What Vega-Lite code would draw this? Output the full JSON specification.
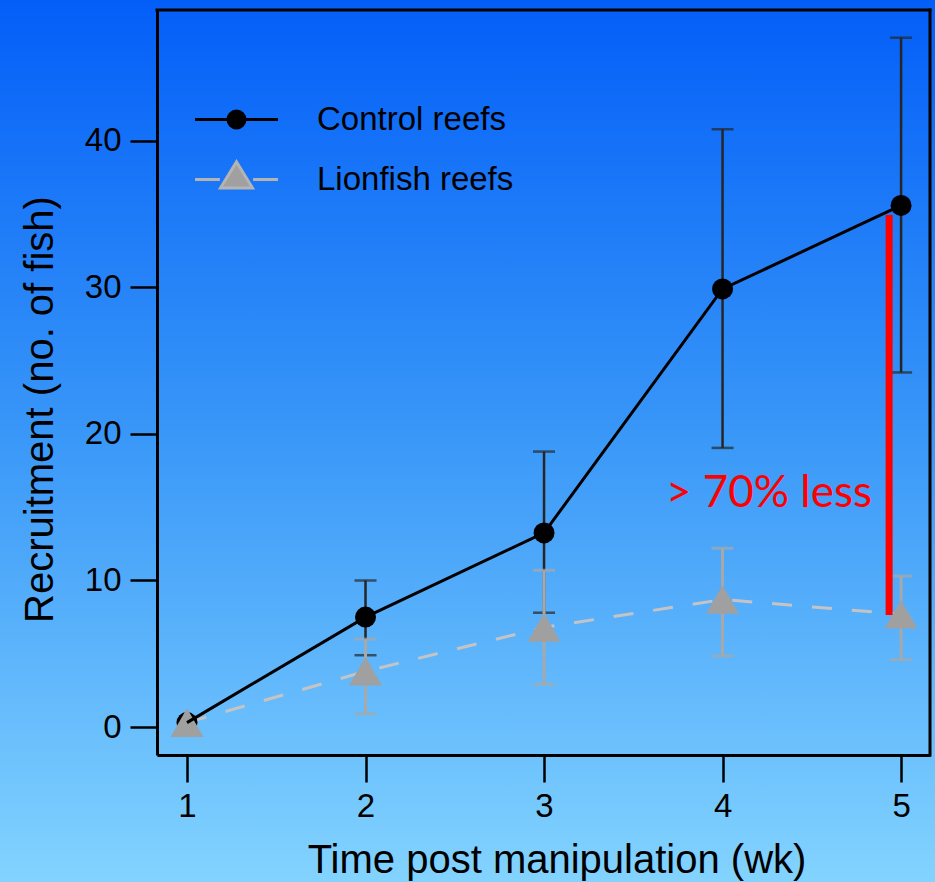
{
  "$schema": "https://vega.github.io/schema/vega-lite/v6.json",
  "autosize": {"type": "none"},
  "padding": {"left": 157, "top": 10, "right": 5, "bottom": 127},
  "width": 773,
  "height": 745,
  "background": "#3a96f8",
  "config": {
    "view": {"stroke": null},
    "axis": {
      "zindex": 1,
      "grid": false,
      "domainColor": "black",
      "domainWidth": 3,
      "tickColor": "black",
      "tickWidth": 2.5,
      "tickSize": 27,
      "labelFont": "Liberation Sans",
      "labelFontSize": 33,
      "labelColor": "black",
      "titleFont": "Liberation Sans",
      "titleFontSize": 40,
      "titleFontWeight": "normal",
      "titleColor": "black"
    }
  },
  "datasets": {
    "main": [
      {"week": 1, "series": "Control reefs", "mean": 0.3, "lo": null, "hi": null},
      {"week": 2, "series": "Control reefs", "mean": 7.5, "lo": 4.9, "hi": 10.0},
      {"week": 3, "series": "Control reefs", "mean": 13.25, "lo": 7.8, "hi": 18.8},
      {"week": 4, "series": "Control reefs", "mean": 29.9, "lo": 19.05, "hi": 40.8},
      {"week": 5, "series": "Control reefs", "mean": 35.6, "lo": 24.2, "hi": 47.05},
      {"week": 1, "series": "Lionfish reefs", "mean": 0.3, "lo": null, "hi": null},
      {"week": 2, "series": "Lionfish reefs", "mean": 3.8, "lo": 0.9, "hi": 6.0},
      {"week": 3, "series": "Lionfish reefs", "mean": 6.8, "lo": 2.9, "hi": 10.7},
      {"week": 4, "series": "Lionfish reefs", "mean": 8.7, "lo": 4.85, "hi": 12.2},
      {"week": 5, "series": "Lionfish reefs", "mean": 7.7, "lo": 4.6, "hi": 10.3}
    ],
    "gap": [{"week": 4.933, "lo": 7.65, "hi": 34.95}],
    "note": [{"week": 4.26, "value": 15.9, "label": "> 70% less"}]
  },
  "layer": [
    {
      "data": {"name": "main"},
      "mark": {"type": "point", "filled": true, "opacity": 1, "strokeWidth": 3},
      "encoding": {
        "x": {
          "field": "week", "type": "quantitative",
          "scale": {"domain": [0.832, 5.162], "nice": false, "zero": false},
          "title": "Time post manipulation (wk)",
          "axis": {"zindex": 1, "values": [1, 2, 3, 4, 5], "format": "d", "labelPadding": 8, "titleX": 399.5, "titleY": 117, "titleBaseline": "alphabetic", "titleAlign": "center"}
        },
        "y": {
          "field": "mean", "type": "quantitative",
          "scale": {"domain": [-1.911, 48.94], "nice": false, "zero": false},
          "title": "Recruitment (no. of fish)",
          "axis": {"zindex": 1, "values": [0, 10, 20, 30, 40], "labelPadding": 9, "titleX": -105, "titleY": 399, "titleBaseline": "alphabetic", "titleAlign": "center"}
        },
        "shape": {
          "field": "series", "type": "nominal",
          "scale": {"domain": ["Control reefs", "Lionfish reefs"], "range": ["M-2,0H2M-0.41,0A0.41,0.41,0,1,1,0.41,0A0.41,0.41,0,1,1,-0.41,0Z", "M-2,0H-0.8M0.8,0H2M0,-0.85L-0.77,0.41L0.77,0.41Z"]},
          "legend": {"title": null, "orient": "none", "legendX": 57, "legendY": 87, "padding": 0, "labelFont": "Liberation Sans", "labelFontSize": 33, "labelColor": "black", "labelOffset": 58, "labelLimit": 500, "symbolSize": 1722, "symbolStrokeWidth": 3, "symbolOpacity": 1, "rowPadding": 18, "zindex": 2}
        },
        "fill": {
          "field": "series", "type": "nominal",
          "scale": {"domain": ["Control reefs", "Lionfish reefs"], "range": ["#000000", "#a0a0a0"]},
          "legend": {"title": null, "orient": "none", "legendX": 57, "legendY": 87, "padding": 0, "labelFont": "Liberation Sans", "labelFontSize": 33, "labelColor": "black", "labelOffset": 58, "labelLimit": 500, "symbolSize": 1722, "symbolStrokeWidth": 3, "symbolOpacity": 1, "rowPadding": 18, "zindex": 2}
        },
        "stroke": {
          "field": "series", "type": "nominal",
          "scale": {"domain": ["Control reefs", "Lionfish reefs"], "range": ["#000000", "#b4b4b4"]},
          "legend": {"title": null, "orient": "none", "legendX": 57, "legendY": 87, "padding": 0, "labelFont": "Liberation Sans", "labelFontSize": 33, "labelColor": "black", "labelOffset": 58, "labelLimit": 500, "symbolSize": 1722, "symbolStrokeWidth": 3, "symbolOpacity": 1, "rowPadding": 18, "zindex": 2}
        }
      }
    },
    {
      "data": {"values": [{}]},
      "mark": {
        "type": "rect",
        "fill": {"gradient": "linear", "x1": 0, "y1": 0, "x2": 0, "y2": 1, "stops": [
          {"offset": 0, "color": "#005cf8"},
          {"offset": 0.5, "color": "#3a98f8"},
          {"offset": 1, "color": "#86d6ff"}
        ]}
      },
      "encoding": {
        "x": {"datum": -0.2, "type": "quantitative", "title": "Time post manipulation (wk)"},
        "x2": {"datum": 5.4},
        "y": {"datum": -12, "type": "quantitative", "title": "Recruitment (no. of fish)"},
        "y2": {"datum": 51}
      }
    },
    {
      "data": {"values": [{}]},
      "mark": {"type": "rule", "color": "#000000", "strokeWidth": 3, "strokeCap": "square"},
      "encoding": {
        "x": {"datum": 0.832, "type": "quantitative", "title": "Time post manipulation (wk)"},
        "x2": {"datum": 5.162},
        "y": {"datum": 48.94, "type": "quantitative", "title": "Recruitment (no. of fish)"}
      }
    },
    {
      "data": {"values": [{}]},
      "mark": {"type": "rule", "color": "#000000", "strokeWidth": 3, "strokeCap": "square"},
      "encoding": {
        "x": {"datum": 5.162, "type": "quantitative", "title": "Time post manipulation (wk)"},
        "y": {"datum": -1.911, "type": "quantitative", "title": "Recruitment (no. of fish)"},
        "y2": {"datum": 48.94}
      }
    },
    {
      "data": {"name": "main"},
      "transform": [{"filter": "datum.series === 'Lionfish reefs'"}],
      "mark": {"type": "line", "color": "#c4c4c4", "strokeWidth": 3, "strokeDash": [20, 20]},
      "encoding": {
        "x": {"field": "week", "type": "quantitative", "title": "Time post manipulation (wk)"},
        "y": {"field": "mean", "type": "quantitative", "title": "Recruitment (no. of fish)"}
      }
    },
    {
      "data": {"name": "main"},
      "transform": [{"filter": "datum.series === 'Control reefs'"}],
      "mark": {"type": "errorbar", "ticks": true, "color": "#262626", "size": 22, "thickness": 2.5},
      "encoding": {
        "x": {"field": "week", "type": "quantitative", "title": "Time post manipulation (wk)"},
        "y": {"field": "lo", "type": "quantitative", "title": "Recruitment (no. of fish)"},
        "y2": {"field": "hi"}
      }
    },
    {
      "data": {"name": "main"},
      "transform": [{"filter": "datum.series === 'Lionfish reefs'"}],
      "mark": {"type": "errorbar", "ticks": true, "color": "#a8a8a8", "size": 22, "thickness": 3},
      "encoding": {
        "x": {"field": "week", "type": "quantitative", "title": "Time post manipulation (wk)"},
        "y": {"field": "lo", "type": "quantitative", "title": "Recruitment (no. of fish)"},
        "y2": {"field": "hi"}
      }
    },
    {
      "data": {"name": "main"},
      "transform": [{"filter": "datum.series === 'Control reefs'"}],
      "mark": {"type": "point", "shape": "circle", "filled": true, "color": "#000000", "opacity": 1, "size": 441},
      "encoding": {
        "x": {"field": "week", "type": "quantitative", "title": "Time post manipulation (wk)"},
        "y": {"field": "mean", "type": "quantitative", "title": "Recruitment (no. of fish)"}
      }
    },
    {
      "data": {"name": "main"},
      "transform": [{"filter": "datum.series === 'Lionfish reefs'"}],
      "mark": {"type": "point", "shape": "triangle-up", "filled": true, "color": "#a0a0a0", "opacity": 1, "size": 1089},
      "encoding": {
        "x": {"field": "week", "type": "quantitative", "title": "Time post manipulation (wk)"},
        "y": {"field": "mean", "type": "quantitative", "title": "Recruitment (no. of fish)"}
      }
    },
    {
      "data": {"name": "main"},
      "transform": [{"filter": "datum.series === 'Control reefs'"}],
      "mark": {"type": "line", "color": "#000000", "strokeWidth": 3},
      "encoding": {
        "x": {"field": "week", "type": "quantitative", "title": "Time post manipulation (wk)"},
        "y": {"field": "mean", "type": "quantitative", "title": "Recruitment (no. of fish)"}
      }
    },
    {
      "data": {"name": "gap"},
      "mark": {"type": "rule", "color": "#ff0000", "strokeWidth": 7},
      "encoding": {
        "x": {"field": "week", "type": "quantitative", "title": "Time post manipulation (wk)"},
        "y": {"field": "lo", "type": "quantitative", "title": "Recruitment (no. of fish)"},
        "y2": {"field": "hi"}
      }
    },
    {
      "data": {"name": "note"},
      "mark": {"type": "text", "font": "Lato", "fontSize": 44, "color": "#ff0000", "align": "center", "baseline": "middle"},
      "encoding": {
        "x": {"field": "week", "type": "quantitative", "title": "Time post manipulation (wk)"},
        "y": {"field": "value", "type": "quantitative", "title": "Recruitment (no. of fish)"},
        "text": {"field": "label"}
      }
    }
  ]
}
